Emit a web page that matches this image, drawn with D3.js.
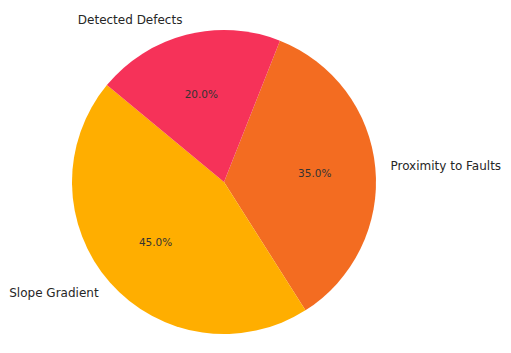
<!DOCTYPE html>
<html>
<head>
<meta charset="utf-8">
<script src="https://cdn.jsdelivr.net/npm/d3@7"></script>
<style>
  html, body { margin: 0; padding: 0; background: #fff; }
  svg { display: block; }
</style>
</head>
<body>
<div id="chart"></div>
<script>
// pie slices, listed clockwise from the start angle
const categories = ["Proximity to Faults", "Slope Gradient", "Detected Defects"];
const shares = [35, 45, 20];
const sliceColors = ["#F36C21", "#FFAE00", "#F63259"];

const width = 511;
const height = 353;
const cx = 224;
const cy = 182;
const radius = 152;

const svg = d3.select("#chart").append("svg")
    .attr("width", width)
    .attr("height", height)
    .attr("viewBox", `0 0 ${width} ${height}`);

const data = categories.map((c, i) => ({ label: c, value: shares[i], color: sliceColors[i] }));

const startDeg = 21.6;
const pie = d3.pie()
    .sort(null)
    .value(d => d.value)
    .startAngle(startDeg * Math.PI / 180)
    .endAngle((startDeg + 360) * Math.PI / 180);

const arcs = pie(data);
const arc = d3.arc().innerRadius(0).outerRadius(radius);

const g = svg.append("g").attr("transform", `translate(${cx},${cy})`);

g.selectAll("path.slice")
    .data(arcs)
    .join("path")
    .attr("class", "slice")
    .attr("d", arc)
    .attr("fill", d => d.data.color);

// percentage labels at 0.6 r
g.selectAll("text.pct")
    .data(arcs)
    .join("text")
    .attr("class", "pct")
    .attr("x", d => 0.6 * radius * Math.sin((d.startAngle + d.endAngle) / 2))
    .attr("y", d => -0.6 * radius * Math.cos((d.startAngle + d.endAngle) / 2))
    .attr("text-anchor", "middle")
    .attr("dominant-baseline", "central")
    .attr("font-family", "DejaVu Sans")
    .attr("font-size", "10.5px")
    .attr("fill", "#333")
    .text(d => d3.format(".1f")(d.data.value / d3.sum(shares) * 100) + "%");

// category labels at 1.1 r
g.selectAll("text.lbl")
    .data(arcs)
    .join("text")
    .attr("class", "lbl")
    .each(function(d) {
        const a = (d.startAngle + d.endAngle) / 2;
        const x = 1.1 * radius * Math.sin(a);
        const y = -1.1 * radius * Math.cos(a);
        d3.select(this)
            .attr("x", x)
            .attr("y", y)
            .attr("text-anchor", x < 0 ? "end" : "start");
    })
    .attr("dominant-baseline", "central")
    .attr("font-family", "DejaVu Sans")
    .attr("font-size", "12px")
    .attr("fill", "#262626")
    .text(d => d.data.label);
</script>
</body>
</html>
